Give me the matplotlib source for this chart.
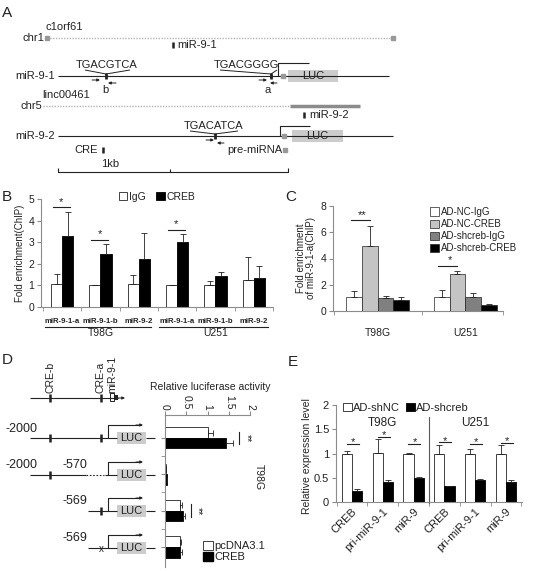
import numpy as np
import matplotlib
matplotlib.use("Agg")
import matplotlib.pyplot as plt
from matplotlib.patches import Rectangle, Patch

plt.rcParams["font.family"] = ["Liberation Sans", "DejaVu Sans"]
plt.rcParams["text.color"] = "#222222"
plt.rcParams["xtick.color"] = "#222222"
plt.rcParams["ytick.color"] = "#222222"

W, H = 533, 573
SPINE = "0.55"

# ---- panel B: ChIP fold enrichment ----
b_sites = ["miR-9-1-a", "miR-9-1-b", "miR-9-2"] * 2
b_cells = ["T98G", "U251"]
b_igg = [1.08, 1.0, 1.05, 1.0, 1.02, 1.25]
b_igg_err = [0.45, 0.02, 0.45, 0.03, 0.2, 1.05]
b_creb = [3.3, 2.45, 2.22, 3.03, 1.45, 1.35]
b_creb_err = [1.1, 0.45, 1.2, 0.33, 0.15, 0.55]
b_sig = ["*", "*", "", "*", "", ""]

# ---- panel C: ChIP after knockdown ----
c_cells = ["T98G", "U251"]
c_series = ["AD-NC-IgG", "AD-NC-CREB", "AD-shcreb-IgG", "AD-shcreb-CREB"]
c_colors = ["white", "#c4c4c4", "#808080", "black"]
c_vals = [[1.05, 1.05], [4.95, 2.8], [1.0, 1.05], [0.82, 0.45]]
c_errs = [[0.45, 0.55], [1.55, 0.25], [0.12, 0.3], [0.25, 0.05]]
c_sig = ["**", "*"]

# ---- panel D: luciferase ----
d_pc = [1.02, 0.03, 0.35, 0.36]
d_pc_err = [0.1, 0.0, 0.04, 0.02]
d_creb = [1.44, 0.05, 0.43, 0.36]
d_creb_err = [0.16, 0.0, 0.03, 0.04]
d_sig = ["**", "", "**", ""]
d_ticks = [0, 0.5, 1, 1.5, 2]

# ---- panel E: expression after knockdown ----
e_genes = ["CREB", "pri-miR-9-1", "miR-9"] * 2
e_cells = ["T98G", "U251"]
e_nc = [1.0, 1.02, 1.0, 1.0, 1.0, 1.0]
e_nc_err = [0.05, 0.27, 0.02, 0.18, 0.1, 0.17]
e_sh = [0.22, 0.42, 0.5, 0.32, 0.46, 0.42]
e_sh_err = [0.04, 0.04, 0.02, 0.01, 0.02, 0.03]


fig = plt.figure(figsize=(W / 100, H / 100), dpi=100)
ov = fig.add_axes([0, 0, 1, 1])
ov.set_xlim(0, W)
ov.set_ylim(H, 0)
ov.axis("off")


def pax(x0, y0, x1, y1):
    ax = fig.add_axes([x0 / W, 1 - y1 / H, (x1 - x0) / W, (y1 - y0) / H])
    ax.patch.set_alpha(0)
    for s in ax.spines.values():
        s.set_color(SPINE)
        s.set_linewidth(0.8)
    ax.tick_params(color=SPINE, width=0.8, length=3)
    return ax


def seg(pts, **kw):
    xs, ys = zip(*pts)
    kw.setdefault("color", "#222222")
    kw.setdefault("lw", 0.8)
    ov.plot(xs, ys, solid_capstyle="butt", **kw)


def arrow(x0, y0, x1, y1, ms=5):
    ov.annotate("", xy=(x1, y1), xytext=(x0, y0),
                arrowprops=dict(arrowstyle="-|>", lw=0.7, color="#222222",
                                mutation_scale=ms, shrinkA=0, shrinkB=0))


def luc(x0, x1, y):
    ov.add_patch(Rectangle((x0, y - 6), x1 - x0, 12, color="#cccccc", lw=0))
    ov.text((x0 + x1) / 2, y, "LUC", ha="center", va="center", fontsize=8)


# panel letters
for lab, (x, y) in {"A": (2, 13), "B": (2, 197), "C": (285, 197),
                    "D": (2, 360), "E": (288, 362)}.items():
    ov.text(x, y, lab, fontsize=11, va="center", ha="left")

# ================= panel A =================
fa = 8
ov.text(44, 38, "chr1", ha="right", va="center", fontsize=fa)
ov.text(46, 27, "c1orf61", ha="left", va="center", fontsize=fa)
seg([(47, 38), (393, 38)], color="0.7", lw=1, ls=(0, (1, 1)))
ov.plot([47, 393], [38, 38], "s", color="0.6", ms=2.5)
seg([(173, 42), (173, 48)], lw=1.8)
ov.text(177, 45, "miR-9-1", ha="left", va="center", fontsize=fa)

seg([(58, 76), (389, 76)])
ov.text(55, 76, "miR-9-1", ha="right", va="center", fontsize=fa)
ov.text(107, 65, "TGACGTCA", ha="center", va="center", fontsize=fa)
seg([(85, 70), (106, 74), (130, 70)], lw=0.7)
seg([(106, 73), (106, 79)], lw=2)
arrow(92, 80, 100, 80, 4)
arrow(116, 83, 108, 83, 4)
ov.text(105, 90, "b", ha="center", va="center", fontsize=fa)
ov.text(246, 65, "TGACGGGG", ha="center", va="center", fontsize=fa)
seg([(220, 70), (271, 74), (277, 70)], lw=0.7)
seg([(271, 73), (271, 79)], lw=2)
arrow(259, 80, 267, 80, 4)
arrow(277, 83, 270, 83, 4)
ov.text(268, 90, "a", ha="center", va="center", fontsize=fa)
seg([(278, 76), (278, 63), (309, 63)])
ov.plot([283], [76], "s", color="0.6", ms=3)
luc(288, 338, 76)

ov.text(42, 106, "chr5", ha="right", va="center", fontsize=fa)
ov.text(42, 95, "linc00461", ha="left", va="center", fontsize=fa)
seg([(43, 106), (290, 106)], color="0.7", lw=1, ls=(0, (1, 1)))
seg([(290, 106), (360, 106)], color="0.55", lw=2.5)
seg([(304, 112), (304, 118)], lw=1.8)
ov.text(309, 115, "miR-9-2", ha="left", va="center", fontsize=fa)

seg([(58, 136), (393, 136)])
ov.text(55, 136, "miR-9-2", ha="right", va="center", fontsize=fa)
ov.text(214, 126, "TGACATCA", ha="center", va="center", fontsize=fa)
seg([(190, 131), (215, 134), (238, 131)], lw=0.7)
seg([(215, 133), (215, 139)], lw=2)
arrow(206, 140, 214, 140, 4)
arrow(224, 143, 217, 143, 4)
seg([(280, 136), (280, 126), (310, 126)])
ov.plot([284], [136], "s", color="0.6", ms=3)
luc(292, 343, 136)

ov.text(98, 150, "CRE", ha="right", va="center", fontsize=fa)
seg([(103, 147), (103, 153)], lw=1.8)
ov.text(282, 150, "pre-miRNA", ha="right", va="center", fontsize=fa)
ov.plot([285], [150], "s", color="0.6", ms=3)
ov.text(110, 164, "1kb", ha="center", va="center", fontsize=fa)
seg([(58, 168), (58, 172), (288, 172), (288, 168)], lw=0.8)
seg([(170, 169), (170, 172)], lw=0.8)

# ================= panel B =================
axb = pax(41, 199, 273, 307)
x = np.arange(len(b_sites))
w = 0.29
ekw = dict(lw=0.6, capsize=2, capthick=0.6, ecolor="#222222")
axb.bar(x - w / 2, b_igg, w, color="white", edgecolor="#222222", lw=0.6,
        yerr=[np.zeros(len(x)), b_igg_err], error_kw=ekw, label="IgG")
axb.bar(x + w / 2, b_creb, w, color="black", edgecolor="black", lw=0.6,
        yerr=[np.zeros(len(x)), b_creb_err], error_kw=ekw, label="CREB")
axb.set_xlim(-0.55, 5.45)
axb.set_ylim(0, 5)
axb.set_yticks(range(6))
axb.tick_params(axis="y", labelsize=7.5, pad=2)
axb.set_xticks(x)
axb.set_xticklabels(b_sites, fontsize=5.6, fontweight="bold")
axb.tick_params(axis="x", length=0, pad=8)
axb.set_xticks(np.arange(-0.5, 6, 1), minor=True)
axb.tick_params(axis="x", which="minor", length=3, color=SPINE)
for s in ["top", "right"]:
    axb.spines[s].set_visible(False)
for i, s in enumerate(b_sig):
    if s:
        y = b_creb[i] + b_creb_err[i] + 0.22
        axb.plot([x[i] - 0.24, x[i] + 0.2], [y, y], color="#222222", lw=0.8)
        axb.text(x[i] - 0.02, y + 0.02, s, ha="center", va="bottom", fontsize=8)
tb = axb.get_xaxis_transform()
for g, (xa, xb) in enumerate([(-0.45, 2.32), (2.53, 5.38)]):
    axb.plot([xa, xb], [-0.185, -0.185], transform=tb, color="#222222",
             lw=0.8, clip_on=False)
    axb.text(3 * g + 1, -0.245, b_cells[g], transform=tb, ha="center",
             va="center", fontsize=7.5)
axb.legend(loc="center", bbox_to_anchor=(157 / W, 1 - 197 / H),
           bbox_transform=fig.transFigure, ncol=2, frameon=False, fontsize=7.5,
           handlelength=0.8, handleheight=0.8, handletextpad=0.2,
           columnspacing=1.0, borderpad=0)
ov.text(20, 253, "Fold enrichment(ChIP)", rotation=90, ha="center",
        va="center", fontsize=7)

# ================= panel C =================
axc = pax(333, 206, 503, 311)
xc = np.arange(len(c_cells))
wc = 0.18
handles = []
for k in range(len(c_series)):
    off = (k - 1.5) * wc
    axc.bar(xc + off, c_vals[k], wc, color=c_colors[k], edgecolor="#222222",
            lw=0.5, yerr=[np.zeros(len(xc)), c_errs[k]], error_kw=ekw)
    handles.append(Patch(facecolor=c_colors[k], edgecolor="#222222", lw=0.5))
axc.set_xlim(-0.51, 1.43)
axc.set_ylim(0, 8)
axc.set_yticks([0, 2, 4, 6, 8])
axc.tick_params(axis="y", labelsize=7.5, pad=2)
axc.set_xticks(xc)
axc.set_xticklabels(c_cells, fontsize=7.5)
axc.tick_params(axis="x", length=0, pad=12)
axc.set_xticks([-0.5, 0.5, 1.43], minor=True)
axc.tick_params(axis="x", which="minor", length=3, color=SPINE)
for s in ["top", "right"]:
    axc.spines[s].set_visible(False)
for i, s in enumerate(c_sig):
    top = max(c_vals[0][i] + c_errs[0][i], c_vals[1][i] + c_errs[1][i])
    y = top + 0.4
    axc.plot([xc[i] - 1.5 * wc - 0.04, xc[i] - 0.5 * wc], [y, y],
             color="#222222", lw=0.8)
    axc.text(xc[i] - wc, y + 0.02, s, ha="center", va="bottom", fontsize=8)
fig.legend(handles, c_series, loc="upper left",
           bbox_to_anchor=(425 / W, 1 - 202 / H), frameon=False, fontsize=7,
           handlelength=0.9, handleheight=0.9, handletextpad=0.2,
           labelspacing=0.22, borderpad=0)
ov.text(306, 258, "Fold enrichment\nof miR-9-1-a(ChIP)", rotation=90,
        ha="center", va="center", fontsize=7, linespacing=1.0)

# ================= panel D =================
axd = pax(165, 415, 250, 567)
rows = np.arange(len(d_pc))
hd = 0.29
ekd = dict(lw=0.6, capsize=2, capthick=0.6, ecolor="#222222")
axd.barh(rows - hd / 2, d_pc, hd, color="white", edgecolor="#222222", lw=0.6,
         xerr=[np.zeros(len(rows)), d_pc_err], error_kw=ekd)
axd.barh(rows + hd / 2, d_creb, hd, color="black", edgecolor="black", lw=0.6,
         xerr=[np.zeros(len(rows)), d_creb_err], error_kw=ekd)
axd.set_xlim(0, 2)
axd.set_ylim(3.55, -0.63)
axd.xaxis.tick_top()
axd.set_xticks(d_ticks)
axd.set_xticklabels([f"{t:g}" for t in d_ticks], rotation=-90, fontsize=7.5)
axd.tick_params(axis="x", pad=1)
axd.set_yticks(rows)
axd.set_yticklabels([])
axd.set_yticks(np.arange(0.5, 3.5, 1), minor=True)
axd.tick_params(axis="y", which="minor", length=3, color=SPINE)
for s in ["bottom", "right"]:
    axd.spines[s].set_visible(False)
for i, s in enumerate(d_sig):
    if s:
        xs = max(d_pc[i] + d_pc_err[i], d_creb[i] + d_creb_err[i]) + 0.14
        axd.plot([xs, xs], [i - 0.17, i + 0.17], color="#222222", lw=0.8)
        axd.text(xs + 0.06, i, s, rotation=-90, ha="left", va="center",
                 fontsize=7.5)
fig.legend([Patch(facecolor="white", edgecolor="#222222", lw=0.6),
            Patch(facecolor="black", edgecolor="black")],
           ["pcDNA3.1", "CREB"], loc="upper left",
           bbox_to_anchor=(197 / W, 1 - 535 / H), frameon=False, fontsize=8,
           handlelength=0.9, handleheight=0.9, handletextpad=0.2,
           labelspacing=0.05, borderpad=0)
ov.text(210, 387, "Relative luciferase activity", ha="center", va="center",
        fontsize=7.5)
ov.text(259, 477, "T98G", rotation=-90, ha="center", va="center", fontsize=7.5)

# construct diagrams (panel D, left)
seg([(30, 398), (118, 398)])
arrow(115, 398, 125, 398, 4)
for xm in (50, 101):
    seg([(xm, 394), (xm, 402)], lw=1.8)
ov.add_patch(Rectangle((110, 393), 4, 8, fill=False, lw=0.7, ec="#222222"))
ov.add_patch(Rectangle((114, 395), 4, 5, color="#222222", lw=0))
clip = Rectangle((0, 357), W, 40, transform=ov.transData)
for xt, t in [(50, "CRE-b"), (101, "CRE-a"), (112, "miR-9-1")]:
    tx = ov.text(xt, 393, t, rotation=90, ha="center", va="bottom",
                 fontsize=7.5)
    tx.set_clip_path(clip)

ys = [438, 475, 511, 548]
# row 1
ov.text(21, ys[0] - 9, "-2000", ha="center", va="center", fontsize=9)
seg([(30, ys[0]), (117, ys[0])])
for xm in (50, 101):
    seg([(xm, ys[0] - 4), (xm, ys[0] + 4)], lw=1.8)
# row 2
ov.text(21, ys[1] - 10, "-2000", ha="center", va="center", fontsize=9)
ov.text(75, ys[1] - 10, "-570", ha="center", va="center", fontsize=9)
seg([(30, ys[1]), (86, ys[1])])
seg([(86, ys[1]), (104, ys[1])], ls=(0, (1.5, 1.5)))
seg([(105, ys[1]), (117, ys[1])])
seg([(50, ys[1] - 4), (50, ys[1] + 4)], lw=1.8)
# rows 3, 4
for r in (2, 3):
    ov.text(75, ys[r] - 10, "-569", ha="center", va="center", fontsize=9)
    seg([(88, ys[r]), (117, ys[r])])
seg([(101, ys[2] - 4), (101, ys[2] + 4)], lw=1.8)
ov.text(101, ys[3] + 1, "x", ha="center", va="center", fontsize=7)
for y in ys:
    seg([(108, y), (108, y - 13), (140, y - 13)])
    arrow(136, y - 13, 143, y - 13, 4)
    luc(117, 146, y)
    seg([(146, y), (155, y)])

# ================= panel E =================
axe = pax(336, 405, 522, 502)
xe = np.arange(len(e_genes))
we = 0.33
axe.bar(xe - we / 2, e_nc, we, color="white", edgecolor="#222222", lw=0.6,
        yerr=[np.zeros(len(xe)), e_nc_err], error_kw=ekw, label="AD-shNC")
axe.bar(xe + we / 2, e_sh, we, color="black", edgecolor="black", lw=0.6,
        yerr=[np.zeros(len(xe)), e_sh_err], error_kw=ekw, label="AD-shcreb")
axe.set_xlim(-0.52, 5.52)
axe.set_ylim(0, 2)
axe.set_yticks([0, 0.5, 1, 1.5, 2])
axe.set_yticklabels(["0", "0.5", "1", "1.5", "2"])
axe.tick_params(axis="y", labelsize=8, pad=2)
axe.set_xticks(xe)
axe.set_xticklabels(e_genes, rotation=45, ha="right", rotation_mode="anchor",
                    fontsize=8)
axe.tick_params(axis="x", length=0, pad=3)
axe.set_xticks(np.arange(-0.5, 6, 1), minor=True)
axe.tick_params(axis="x", which="minor", length=3, color=SPINE)
for s in ["top", "right"]:
    axe.spines[s].set_visible(False)
for i in range(len(xe)):
    y = max(1.2, e_nc[i] + e_nc_err[i] + 0.05)
    axe.plot([xe[i] - 0.17, xe[i] + 0.22], [y, y], color="#222222", lw=0.8)
    axe.text(xe[i] + 0.03, y - 0.07, "*", ha="center", va="bottom", fontsize=8)
axe.plot([2.5, 2.5], [-0.02, 1.75], color="0.35", lw=0.8, clip_on=False)
for g, c in enumerate(e_cells):
    axe.text(3 * g + 1, 1.62, c, ha="center", va="center", fontsize=8.5)
axe.legend(loc="center", bbox_to_anchor=(406 / W, 1 - 408 / H),
           bbox_transform=fig.transFigure, ncol=2, frameon=False, fontsize=8,
           handlelength=0.8, handleheight=0.8, handletextpad=0.15,
           columnspacing=0.5, borderpad=0)
ov.text(307, 456, "Relative expression level", rotation=90, ha="center",
        va="center", fontsize=7.5)

fig.savefig("out.png", dpi=100)
